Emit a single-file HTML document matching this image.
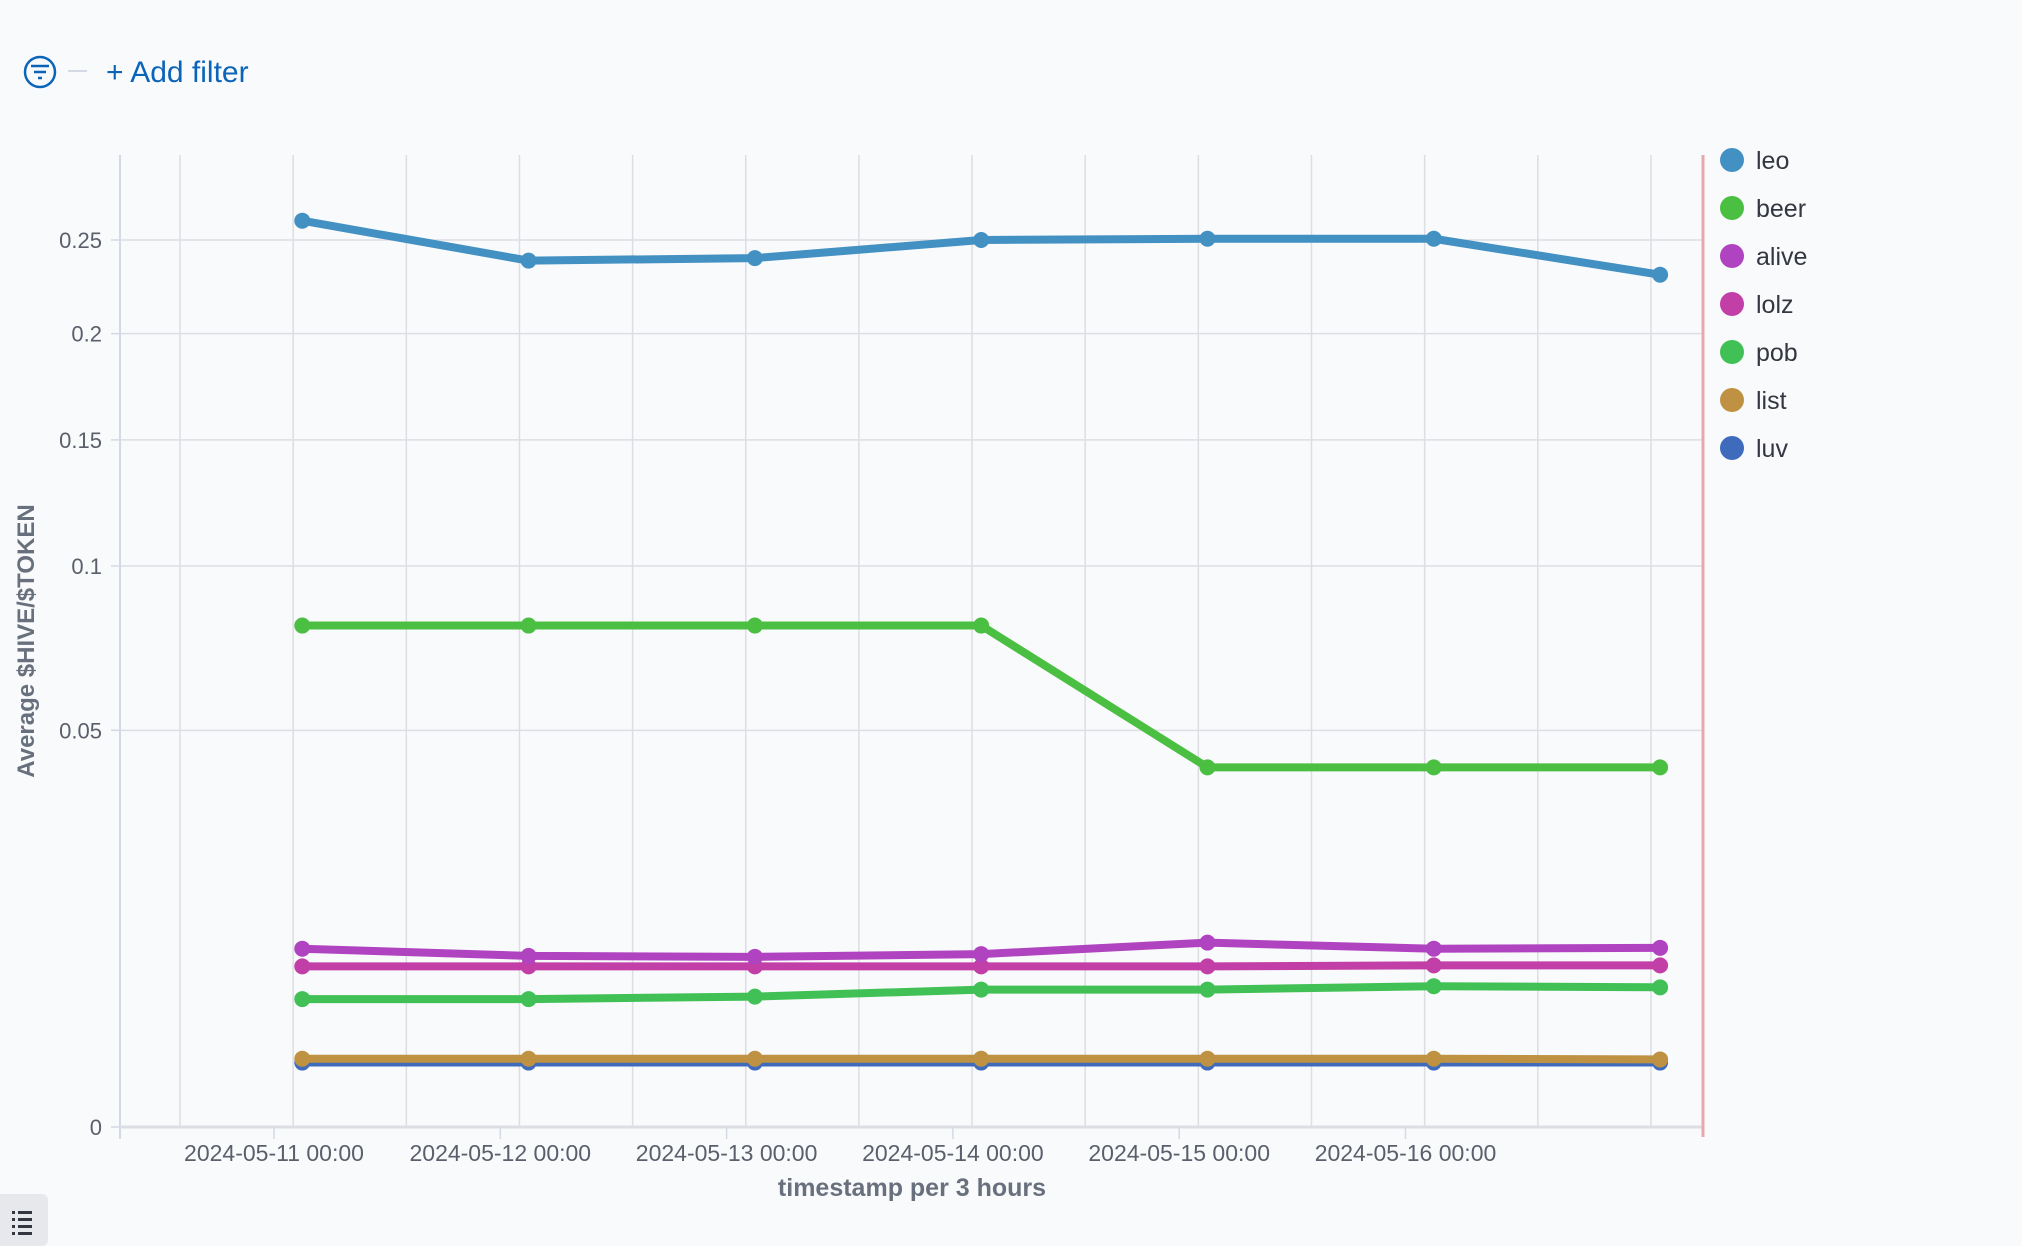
<!DOCTYPE html>
<html><head><meta charset="utf-8"><style>
body{margin:0;background:#f9fafc;font-family:"Liberation Sans",sans-serif;}
svg{display:block}
</style></head><body>
<svg width="2022" height="1246" viewBox="0 0 2022 1246">
<rect width="2022" height="1246" fill="#f9fafc"/>
<g>
<g>
<circle cx="40" cy="72" r="15" fill="none" stroke="#0b64b8" stroke-width="2.5"/>
<line x1="31" y1="66" x2="49" y2="66" stroke="#0b64b8" stroke-width="2.5"/>
<line x1="34" y1="72" x2="46" y2="72" stroke="#0b64b8" stroke-width="2.5"/>
<line x1="38" y1="78" x2="42" y2="78" stroke="#0b64b8" stroke-width="2.5"/>
</g>
<line x1="68" y1="71" x2="87" y2="71" stroke="#d3dae6" stroke-width="2"/>
<text x="106" y="82" font-size="30" fill="#0b64b8">+ Add filter</text>
</g>
<g id="grid"></g>
<g id="axes"></g>
<g id="series"></g>
<g id="legend"></g>
<text transform="translate(34,641) rotate(-90)" text-anchor="middle" font-size="24" font-weight="bold" fill="#69707d">Average $HIVE/$TOKEN</text>
<text x="912" y="1196" text-anchor="middle" font-size="25" font-weight="bold" fill="#69707d">timestamp per 3 hours</text>
<g>
<rect x="-8" y="1194" width="56" height="52" rx="6" fill="#e6e8ec"/>
<g fill="#343741"><rect x="12" y="1211" width="3" height="3"/><rect x="18" y="1211" width="14" height="3"/><rect x="12" y="1218" width="3" height="3"/><rect x="18" y="1218" width="14" height="3"/><rect x="12" y="1225" width="3" height="3"/><rect x="18" y="1225" width="14" height="3"/><rect x="12" y="1232" width="3" height="3"/><rect x="18" y="1232" width="14" height="3"/></g>
</g>
</svg>
<script>
const seriesNames=["leo","beer","alive","lolz","pob","list","luv"];
const seriesColors=["#4390c2","#4bbf42","#b043c0","#c13fa6","#41c055","#be9242","#3f6bbd"];
const dayLabels=["2024-05-11 00:00","2024-05-12 00:00","2024-05-13 00:00","2024-05-14 00:00","2024-05-15 00:00","2024-05-16 00:00"];
const pointDays=[0.125,1.125,2.125,3.125,4.125,5.125,6.125];
const leo=[0.261,0.2385,0.2399,0.25,0.2507,0.2507,0.2308];
const beer=[0.0799,0.0799,0.0799,0.0799,0.0411,0.0411,0.0411];
const alive=[0.0101,0.0093,0.0092,0.0095,0.0108,0.0101,0.0102];
const lolz=[0.0082,0.0082,0.0082,0.0082,0.0082,0.0083,0.0083];
const pob=[0.0052,0.0052,0.0054,0.006,0.006,0.0063,0.0062];
const list=[0.00148,0.00148,0.00148,0.00148,0.00148,0.00148,0.00145];
const luv=[0.00132,0.00132,0.00132,0.00132,0.00132,0.00132,0.00132];
const yTicks=[0,0.05,0.1,0.15,0.2,0.25];
const yTickLabels=["0","0.05","0.1","0.15","0.2","0.25"];
const allSeries=[leo,beer,alive,lolz,pob,list,luv];
const NS="http://www.w3.org/2000/svg";
const X0=274,DAY=226.3,Y0=1127,K=1774,LEFT=120,RIGHT=1703,TOP=155;
function xs(d){return X0+d*DAY;}
function ys(v){return Y0-K*Math.sqrt(v);}
function mk(tag,attrs,parent){const e=document.createElementNS(NS,tag);for(const k in attrs)e.setAttribute(k,attrs[k]);parent.appendChild(e);return e;}
const grid=document.getElementById('grid'),axes=document.getElementById('axes'),ser=document.getElementById('series'),leg=document.getElementById('legend');
for(let i=0;i<14;i++){const x=180+i*113.15;if(x>RIGHT)break;
 const l=mk('line',{x1:x,y1:TOP,x2:x,y2:Y0,stroke:'#dcdee3','stroke-width':1.5},grid);
 
 }
yTicks.forEach((v,i)=>{const y=ys(v);
 if(v>0){const g=mk('line',{x1:LEFT,y1:y,x2:RIGHT,y2:y,stroke:'#dcdee3','stroke-width':1.5},grid);
 
 }
 mk('line',{x1:LEFT-9,y1:y,x2:LEFT,y2:y,stroke:'#d3dae6','stroke-width':1.5},axes);
 const t=mk('text',{x:LEFT-18,y:y+8,'text-anchor':'end','font-size':22,fill:'#5a5f6b'},axes);t.textContent=yTickLabels[i];
 
 });
mk('line',{x1:LEFT,y1:TOP,x2:LEFT,y2:Y0+12,stroke:'#d3dae6','stroke-width':2},axes);
mk('line',{x1:LEFT,y1:Y0,x2:RIGHT,y2:Y0,stroke:'#dcdee3','stroke-width':3},axes);
dayLabels.forEach((s,d)=>{const x=xs(d);
 mk('line',{x1:x,y1:Y0,x2:x,y2:Y0+12,stroke:'#d3dae6','stroke-width':1.5},axes);
 const t=mk('text',{x:x,y:1161,'text-anchor':'middle','font-size':23,fill:'#5a5f6b'},axes);t.textContent=s;
 
 });
const rl=mk('line',{x1:RIGHT,y1:TOP,x2:RIGHT,y2:Y0+10,stroke:'#e8a8aa','stroke-width':3},axes);


for(let s=allSeries.length-1;s>=0;s--){const vals=allSeries[s];const g=mk('g',{},ser);
 
 
 const pts=vals.map((v,i)=>xs(pointDays[i])+','+ys(v)).join(' ');
 mk('polyline',{points:pts,fill:'none',stroke:seriesColors[s],'stroke-width':8,'stroke-linejoin':'round'},g);
 vals.forEach((v,i)=>{const c=mk('circle',{cx:xs(pointDays[i]),cy:ys(v),r:8,fill:seriesColors[s]},g);
  
  });}
seriesNames.forEach((n,i)=>{const y=160+i*48;const g=mk('g',{},leg);
 
 
 mk('circle',{cx:1732,cy:y,r:12,fill:seriesColors[i]},g);
 const t=mk('text',{x:1756,y:y+9,'font-size':25,fill:'#343741'},g);t.textContent=n;});
</script>
</body></html>
